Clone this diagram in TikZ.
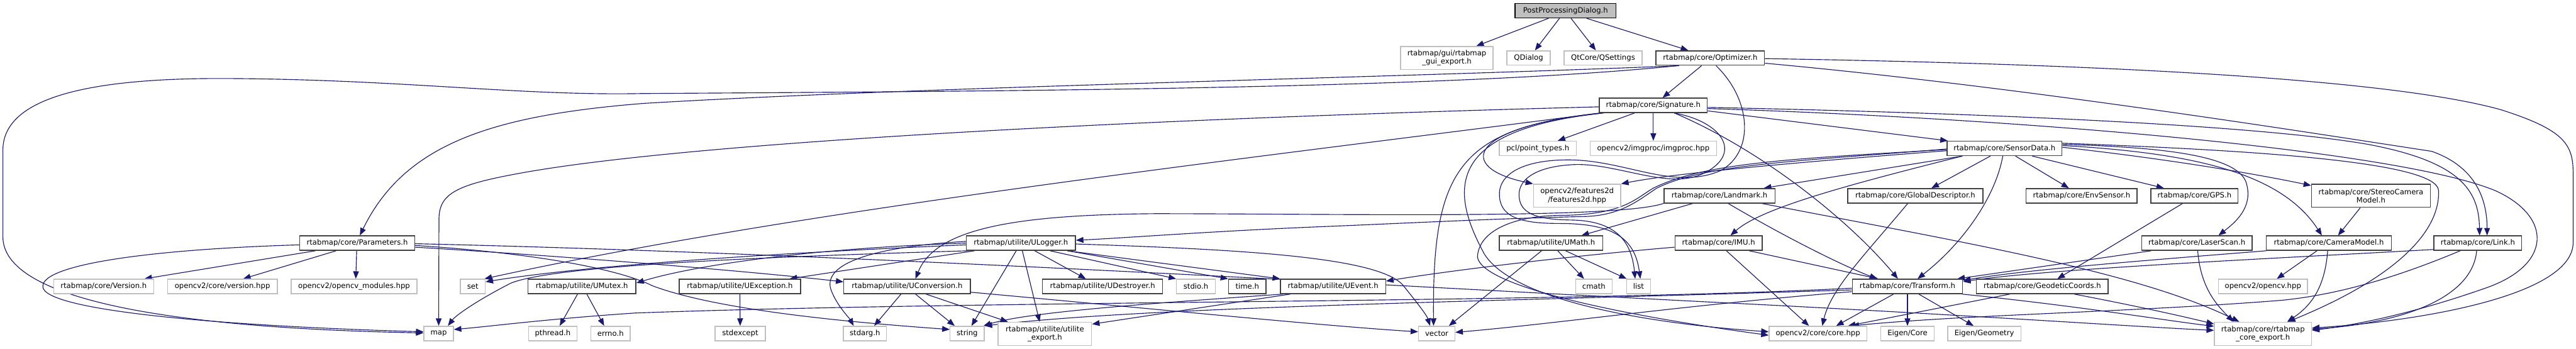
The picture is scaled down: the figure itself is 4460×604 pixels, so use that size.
\documentclass[tikz,border=0pt]{standalone}
\usepackage{fontspec}
\setmainfont{DejaVu Sans}
\usetikzlibrary{arrows.meta}
\definecolor{mb}{HTML}{191970}
\definecolor{gl}{HTML}{BFBFBF}
\definecolor{gd}{HTML}{404040}
\pgfdeclarelayer{edges}
\pgfsetlayers{edges,main}
\tikzset{
  box/.style={rectangle, inner sep=0pt, minimum height=25pt, line width=1.5pt, fill=white, font=\fontsize{12.7pt}{14.3pt}\selectfont, align=center},
  nb/.style={box, draw=gd},
  ng/.style={box, draw=gl},
  nr/.style={box, draw=black, fill=gl},
  tall/.style={minimum height=40pt},
  e/.style={draw=mb, line width=1.25pt, -{Triangle[length=13pt,width=10pt]}},
}
\begin{document}
\begin{tikzpicture}[x=1pt,y=-1pt]
\useasboundingbox (0,0) rectangle (4460,604);
% row 1-5
\node[nr, minimum width=175pt] (root) at (2710.5,18.5) {PostProcessingDialog.h};
\node[ng, tall, minimum width=160pt] (guiexp) at (2505,100.5) {rtabmap/gui/rtabmap\\\_gui\_export.h};
\node[ng, minimum width=75pt] (qdialog) at (2646.5,100.5) {QDialog};
\node[ng, minimum width=135pt] (qsettings) at (2775.5,100.5) {QtCore/QSettings};
\node[nb, minimum width=188pt] (optimizer) at (2961,100.5) {rtabmap/core/Optimizer.h};
\node[nb, minimum width=187pt] (signature) at (2862.5,182.5) {rtabmap/core/Signature.h};
\node[ng, minimum width=133pt] (pcl) at (2662.5,257) {pcl/point\_types.h};
\node[ng, minimum width=219pt] (imgproc) at (2862.5,257) {opencv2/imgproc/imgproc.hpp};
\node[nb, minimum width=199pt] (sensordata) at (3470.5,257) {rtabmap/core/SensorData.h};
\node[ng, tall, minimum width=151pt] (features2d) at (2730.5,339) {opencv2/features2d\\/features2d.hpp};
\node[nb, minimum width=192pt] (landmark) at (2977,339) {rtabmap/core/Landmark.h};
\node[nb, minimum width=234pt] (globaldesc) at (3316,339) {rtabmap/core/GlobalDescriptor.h};
\node[nb, minimum width=192pt] (envsensor) at (3604,339) {rtabmap/core/EnvSensor.h};
\node[nb, minimum width=151pt] (gps) at (3799.5,339) {rtabmap/core/GPS.h};
\node[nb, tall, minimum width=206pt] (stereo) at (4105,339) {rtabmap/core/StereoCamera\\Model.h};
% row 6
\node[nb, minimum width=199pt] (parameters) at (618.5,421) {rtabmap/core/Parameters.h};
\node[nb, minimum width=189pt] (ulogger) at (1767.5,421) {rtabmap/utilite/ULogger.h};
\node[nb, minimum width=179pt] (umath) at (2685.5,421) {rtabmap/utilite/UMath.h};
\node[nb, minimum width=151pt] (imu) at (2975.5,421) {rtabmap/core/IMU.h};
\node[nb, minimum width=191pt] (laserscan) at (3803.5,421) {rtabmap/core/LaserScan.h};
\node[nb, minimum width=217pt] (cameramodel) at (4032,421) {rtabmap/core/CameraModel.h};
\node[nb, minimum width=152pt] (link) at (4290,421) {rtabmap/core/Link.h};
% row 7
\node[ng, minimum width=173pt] (version) at (179.5,496) {rtabmap/core/Version.h};
\node[ng, minimum width=190pt] (cvversion) at (385,496) {opencv2/core/version.hpp};
\node[ng, minimum width=218pt] (cvmodules) at (613,496) {opencv2/opencv\_modules.hpp};
\node[ng, minimum width=43pt] (set) at (818.5,496) {set};
\node[nb, minimum width=187pt] (umutex) at (1007.5,496) {rtabmap/utilite/UMutex.h};
\node[nb, minimum width=210pt] (uexception) at (1281,496) {rtabmap/utilite/UException.h};
\node[nb, minimum width=219pt] (uconversion) at (1570.5,496) {rtabmap/utilite/UConversion.h};
\node[nb, minimum width=208pt] (udestroyer) at (1909,496) {rtabmap/utilite/UDestroyer.h};
\node[ng, minimum width=67pt] (stdio) at (2070.5,496) {stdio.h};
\node[nb, minimum width=65pt] (time) at (2159.5,496) {time.h};
\node[nb, minimum width=182pt] (uevent) at (2308,496) {rtabmap/utilite/UEvent.h};
\node[ng, minimum width=63pt] (cmath) at (2759.5,496) {cmath};
\node[ng, minimum width=42pt] (list) at (2837,496) {list};
\node[nb, minimum width=191pt] (transform) at (3302.5,496) {rtabmap/core/Transform.h};
\node[nb, minimum width=228pt] (geodetic) at (3536,496) {rtabmap/core/GeodeticCoords.h};
\node[ng, minimum width=154pt] (opencvhpp) at (3918,496) {opencv2/opencv.hpp};
% row 8
\node[ng, minimum width=51pt] (map) at (759.5,577.5) {map};
\node[ng, minimum width=84pt] (pthread) at (957,577.5) {pthread.h};
\node[ng, minimum width=68pt] (errno) at (1057,577.5) {errno.h};
\node[ng, minimum width=87pt] (stdexcept) at (1281.5,577.5) {stdexcept};
\node[ng, minimum width=75pt] (stdarg) at (1497.5,577.5) {stdarg.h};
\node[ng, minimum width=59pt] (string) at (1674.5,577.5) {string};
\node[ng, tall, minimum width=162pt] (utilexp) at (1809,578) {rtabmap/utilite/utilite\\\_export.h};
\node[ng, minimum width=63pt] (vector) at (2487.5,577.5) {vector};
\node[ng, minimum width=169pt] (corehpp) at (3147.5,577.5) {opencv2/core/core.hpp};
\node[ng, minimum width=93pt] (eigencore) at (3302.5,577.5) {Eigen/Core};
\node[ng, minimum width=127pt] (eigengeom) at (3435.5,577.5) {Eigen/Geometry};
\node[ng, tall, minimum width=168pt] (coreexp) at (3918,578) {rtabmap/core/rtabmap\\\_core\_export.h};

\begin{pgfonlayer}{edges}
% root
\draw[e] ([xshift=-29.5pt]root.south) -- ([xshift=51pt]guiexp.north);
\draw[e] ([xshift=-10.5pt]root.south) -- ([xshift=11pt]qdialog.north);
\draw[e] ([xshift=9.5pt]root.south) -- ([xshift=-12.5pt]qsettings.north);
\draw[e] ([xshift=36.5pt]root.south) -- ([xshift=-38pt]optimizer.north);
% optimizer
\draw[e] ([xshift=-15pt]optimizer.south) -- ([xshift=16pt]signature.north);
\draw[e] ([xshift=-54pt]optimizer.south) .. controls (2400,135) and (1600,150) .. (1115,179) .. controls (850,200) and (700,250) .. ([xshift=4.5pt]parameters.north);
\draw[e] ([xshift=-56pt]optimizer.south) .. controls (2500,155) and (1700,158) .. (1110,162) .. controls (900,166) and (700,138) .. (400,136) .. controls (150,134) and (5,170) .. (5,260) -- (5,410) .. controls (5,520) and (300,568) .. ([yshift=1pt]map.west);
\draw[e] ([yshift=-9pt]optimizer.east) .. controls (3500,150) and (4000,230) .. (4210,262) .. controls (4290,290) and (4306,350) .. ([xshift=16pt]link.north);
\draw[e] ([yshift=-1pt]optimizer.east) .. controls (3700,112) and (4150,140) .. (4330,190) .. controls (4440,225) and (4455,250) .. (4455,300) -- (4455,420) .. controls (4455,510) and (4200,555) .. ([yshift=10pt]coreexp.east);
\draw[e] ([xshift=10pt]optimizer.south) .. controls (3030,170) and (3040,260) .. (2980,295) .. controls (2900,330) and (2820,280) .. (2724,277) .. controls (2640,275) and (2596,300) .. (2596,336) .. controls (2596,375) and (2630,387) .. (2700,387) .. controls (2790,387) and (2830,410) .. ([xshift=3pt]list.north);
% signature
\draw[e] ([xshift=-32.5pt]signature.south) -- ([xshift=34.5pt]pcl.north);
\draw[e] (signature.south) -- (imgproc.north);
\draw[e] ([yshift=-9.5pt]signature.east) -- ([xshift=2pt]sensordata.north west);
\draw[e] ([yshift=-3.5pt]signature.east) .. controls (3400,195) and (3900,215) .. (4100,250) .. controls (4260,280) and (4292,330) .. ([xshift=3pt]link.north);
\draw[e] ([yshift=-5.5pt]signature.east) .. controls (3500,205) and (4150,260) .. (4320,330) .. controls (4420,375) and (4420,460) .. (4300,500) .. controls (4200,535) and (4100,560) .. ([yshift=6pt]coreexp.east);
\draw[e] ([xshift=36.5pt]signature.south) .. controls (3050,260) and (3200,380) .. ([xshift=-16.5pt]transform.north);
\draw[e] ([yshift=-2.5pt]signature.west) .. controls (2000,205) and (1200,245) .. (900,300) .. controls (790,320) and (760,335) .. (760,380) -- (map.north);
\draw[e] ([xshift=2pt]signature.south west) .. controls (2200,270) and (1400,360) .. ([xshift=-2pt]set.north east);
\draw[e] ([xshift=4pt]signature.south west) .. controls (2520,222) and (2480,300) .. ([xshift=-5.5pt]vector.north);
\draw[e] ([xshift=6pt]signature.south west) .. controls (2540,220) and (2520,290) .. (features2d.north west);
\draw[e] ([xshift=8pt]signature.south west) .. controls (2500,225) and (2510,330) .. (2570,440) .. controls (2620,520) and (2850,560) .. ([yshift=3pt]corehpp.west);
\draw[e] ([xshift=36pt]signature.south) .. controls (2980,210) and (3020,265) .. (2950,300) .. controls (2890,330) and (2800,282) .. (2725,285) .. controls (2660,288) and (2630,310) .. (2630,337) .. controls (2630,370) and (2660,380) .. (2720,381) .. controls (2800,382) and (2825,420) .. ([xshift=-6pt]list.north);
% sensordata
\draw[e] ([xshift=-24.5pt]sensordata.south) -- ([xshift=28pt]globaldesc.north);
\draw[e] ([xshift=19pt]sensordata.south) -- ([xshift=-22pt]envsensor.north);
\draw[e] ([xshift=48pt]sensordata.south) -- ([xshift=-53pt]gps.north);
\draw[e] ([xshift=-3pt]sensordata.south) .. controls (3455,340) and (3400,420) .. ([xshift=17.5pt]transform.north);
\draw[e] ([xshift=-73pt]sensordata.south) -- ([xshift=-20pt]landmark.north east);
\draw[e] ([xshift=-73pt]sensordata.south) .. controls (3200,320) and (3050,360) .. ([xshift=20.5pt]imu.north);
\draw[e] ([yshift=-4pt]sensordata.west) .. controls (3100,282) and (2900,300) .. (features2d.north east);
\draw[e] ([yshift=-2pt]sensordata.west) .. controls (3100,275) and (2950,282) .. (2862,326) .. controls (2830,345) and (2810,372) .. (2700,373) .. controls (2620,374) and (2560,400) .. (2558,445) .. controls (2565,495) and (2800,545) .. ([yshift=-3pt]corehpp.west);
\draw[e] ([yshift=-1pt]sensordata.west) .. controls (3100,280) and (2950,285) .. (2868,326) .. controls (2835,348) and (2805,374) .. (2740,375) .. controls (2600,378) and (2400,388) .. (2300,392) .. controls (2100,400) and (1950,412) .. ([yshift=5pt]ulogger.east);
\draw[e] ([yshift=7pt]sensordata.east) .. controls (3750,255) and (3880,270) .. (3890,320) .. controls (3900,360) and (3870,385) .. ([xshift=37.5pt]laserscan.north);
\draw[e] ([yshift=5pt]sensordata.east) .. controls (3800,265) and (3950,300) .. ([xshift=-12pt]cameramodel.north);
\draw[e] ([yshift=2pt]sensordata.east) .. controls (3750,275) and (3900,300) .. ([yshift=-3pt]stereo.north west);
\draw[e] ([yshift=9pt]sensordata.east) .. controls (3900,260) and (4220,280) .. (4222,330) .. controls (4225,400) and (4150,480) .. ([xshift=43pt]coreexp.north);
% landmark
\draw[e] ([xshift=-46pt]landmark.south) -- ([xshift=52.5pt]umath.north);
\draw[e] ([xshift=15pt]landmark.south) .. controls (3090,410) and (3190,460) .. ([xshift=-52.5pt]transform.north);
\draw[e] ([xshift=73pt]landmark.south) .. controls (3400,420) and (3700,470) .. ([xshift=-41pt]coreexp.north);
\draw[e] (landmark.south west) .. controls (2800,380) and (2300,370) .. (2000,370) .. controls (1760,372) and (1620,395) .. ([xshift=14.5pt]uconversion.north);
% others row 5
\draw[e] ([xshift=-13pt]globaldesc.south) .. controls (3230,440) and (3170,500) .. ([xshift=7.5pt]corehpp.north);
\draw[e] ([xshift=-20.5pt]gps.south) -- ([xshift=26pt]geodetic.north);
\draw[e] ([xshift=-18.5pt]stereo.south) -- ([xshift=16pt]cameramodel.north);
% parameters
\draw[e] ([xshift=-72.5pt]parameters.south) -- ([xshift=70.5pt]version.north);
\draw[e] ([xshift=-36.5pt]parameters.south) -- ([xshift=36pt]cvversion.north);
\draw[e] ([xshift=-1pt]parameters.south) -- ([xshift=3pt]cvmodules.north);
\draw[e] ([yshift=-3pt]parameters.west) .. controls (250,432) and (60,460) .. (75,500) .. controls (95,540) and (400,565) .. ([yshift=3pt]map.west);
\draw[e] ([yshift=-4pt]parameters.east) .. controls (950,440) and (1080,470) .. (1130,495) .. controls (1250,540) and (1500,560) .. ([yshift=7pt]string.west);
\draw[e] ([yshift=-7pt]parameters.east) .. controls (1000,445) and (1300,470) .. ([yshift=8pt]uconversion.west);
\draw[e] ([yshift=-1pt]parameters.east) .. controls (1500,440) and (2500,500) .. (3000,525) .. controls (3400,545) and (3700,566) .. ([yshift=6pt]coreexp.west);
% ulogger
\draw[e] (ulogger.west) .. controls (1400,430) and (1200,460) .. ([yshift=6pt]umutex.east);
\draw[e] ([yshift=-3pt]ulogger.west) .. controls (1300,440) and (1000,462) .. ([yshift=8pt]set.east);
\draw[e] ([xshift=5pt]ulogger.south west) .. controls (1200,448) and (950,465) .. (885,490) .. controls (830,518) and (790,545) .. ([xshift=16pt]map.north);
\draw[e] ([xshift=15pt]ulogger.south west) -- ([xshift=86pt]uexception.north);
\draw[e] ([yshift=3pt]ulogger.west) .. controls (1500,428) and (1420,460) .. (1440,505) .. controls (1450,530) and (1470,550) .. ([xshift=-19.5pt]stdarg.north);
\draw[e] ([xshift=-8pt]ulogger.south) -- ([xshift=7.5pt]string.north);
\draw[e] ([xshift=2.5pt]ulogger.south) -- ([xshift=-9pt]utilexp.north);
\draw[e] ([xshift=24pt]ulogger.south) -- ([xshift=-29pt]udestroyer.north);
\draw[e] ([xshift=50.5pt]ulogger.south) -- (stdio.north west);
\draw[e] ([xshift=80.5pt]ulogger.south) -- (time.north west);
\draw[e] ([xshift=80.5pt]ulogger.south) -- (uevent.north west);
\draw[e] ([yshift=-1.5pt]ulogger.east) .. controls (2150,432) and (2390,445) .. (2430,495) .. controls (2450,520) and (2470,545) .. ([xshift=-11.5pt]vector.north);
% umath
\draw[e] ([xshift=-16.5pt]umath.south) -- ([xshift=21pt]vector.north);
\draw[e] ([xshift=11.5pt]umath.south) -- ([xshift=-17pt]cmath.north);
\draw[e] ([xshift=25pt]umath.south) -- ([xshift=1pt]list.north west);
% imu
\draw[e] ([xshift=13.5pt]imu.south) -- ([xshift=-15.5pt]corehpp.north);
\draw[e] ([xshift=53pt]imu.south) -- ([xshift=-50.5pt]transform.north);
\draw[e] ([yshift=-7pt]imu.west) .. controls (2700,445) and (2500,470) .. ([yshift=-4pt]uevent.north east);
% laserscan
\draw[e] ([xshift=-79pt]laserscan.south) -- ([xshift=-10pt]transform.north east);
\draw[e] ([xshift=1.5pt]laserscan.south) .. controls (3810,500) and (3840,530) .. ([xshift=-51pt]coreexp.north);
% cameramodel
\draw[e] ([xshift=-20.5pt]cameramodel.south) -- ([xshift=24pt]opencvhpp.north);
\draw[e] ([xshift=-2pt]cameramodel.south) .. controls (4025,500) and (4000,530) .. ([xshift=42pt]coreexp.north);
\draw[e] ([xshift=1pt]cameramodel.south west) .. controls (3700,452) and (3500,468) .. ([yshift=-3pt]transform.north east);
% link
\draw[e] ([yshift=-11pt]link.west) .. controls (3950,447) and (3550,465) .. ([yshift=-5pt]transform.north east);
\draw[e] ([xshift=-30.5pt]link.south) .. controls (4150,480) and (4050,510) .. (3950,520) .. controls (3700,540) and (3400,545) .. ([xshift=58pt]corehpp.north);
\draw[e] ([xshift=-2pt]link.south) .. controls (4280,520) and (4150,560) .. ([yshift=8pt]coreexp.east);
% utilities
\draw[e] ([xshift=-7.5pt]umutex.south) -- ([xshift=12pt]pthread.north);
\draw[e] ([xshift=8.5pt]umutex.south) -- ([xshift=-11pt]errno.north);
\draw[e] (uexception.south) -- (stdexcept.north);
\draw[e] ([xshift=-10.5pt]uconversion.south) -- ([xshift=16pt]stdarg.north);
\draw[e] ([xshift=14.5pt]uconversion.south) -- ([xshift=-21.5pt]string.north);
\draw[e] ([xshift=32.5pt]uconversion.south) -- ([xshift=-64pt]utilexp.north);
\draw[e] ([yshift=-10pt]uconversion.east) .. controls (2000,535) and (2300,565) .. ([yshift=3pt]vector.west);
\draw[e] ([xshift=5pt]uevent.south west) .. controls (2000,525) and (1780,540) .. ([xshift=-2pt]string.north east);
\draw[e] ([xshift=18pt]uevent.south west) -- ([yshift=-4pt]utilexp.north east);
% transform
\draw[e] ([xshift=-24pt]transform.south) -- ([xshift=31.5pt]corehpp.north);
\draw[e] (transform.south) -- (eigencore.north);
\draw[e] ([xshift=19.5pt]transform.south) -- ([xshift=-18.5pt]eigengeom.north);
\draw[e] ([xshift=-2pt]transform.south east) .. controls (3600,530) and (3750,555) .. ([yshift=13pt]coreexp.west);
\draw[e] ([yshift=-3pt]transform.west) .. controls (2700,525) and (1700,520) .. (1100,542) .. controls (950,552) and (850,565) .. ([yshift=7pt]map.east);
\draw[e] ([yshift=-9pt]transform.west) .. controls (2900,530) and (2700,560) .. ([yshift=2pt]vector.east);
\draw[e] ([yshift=-6pt]transform.west) .. controls (2600,522) and (2000,530) .. (string.north east);
% geodetic
\draw[e] ([xshift=-56pt]geodetic.south) -- ([xshift=52pt]corehpp.north);
\draw[e] ([xshift=55pt]geodetic.south) .. controls (3700,530) and (3780,548) .. ([yshift=17pt]coreexp.west);
\end{pgfonlayer}
\end{tikzpicture}
\end{document}
